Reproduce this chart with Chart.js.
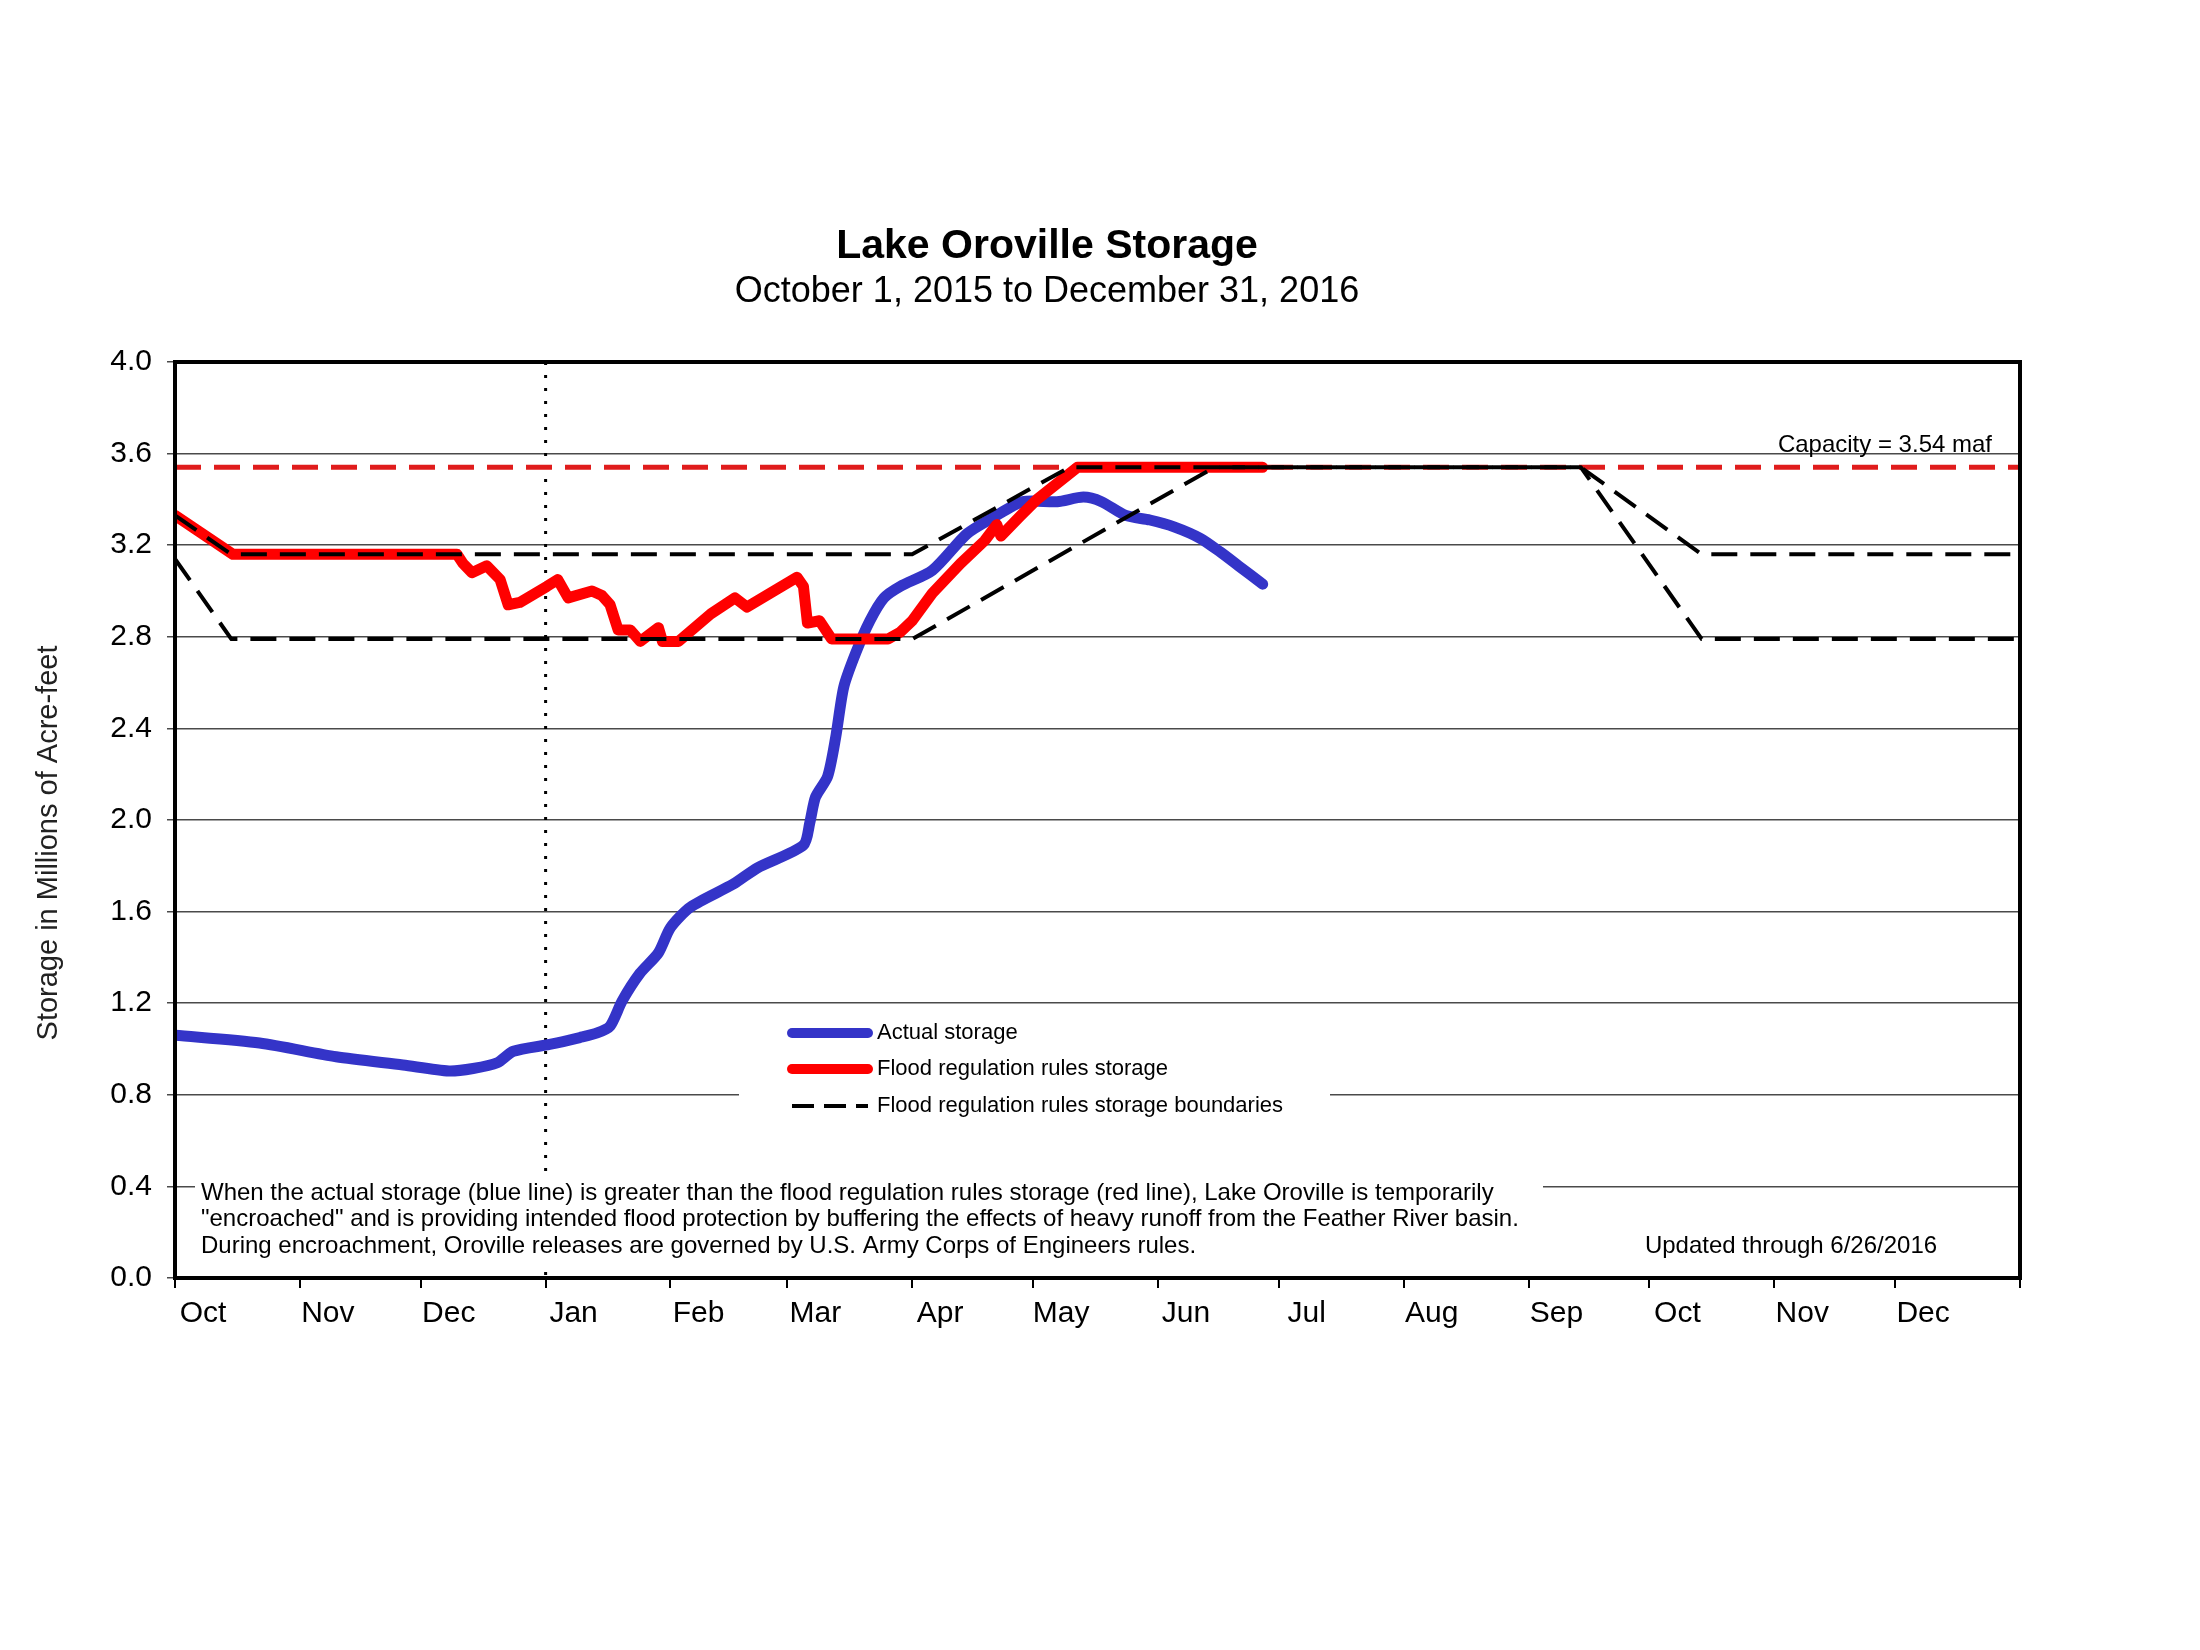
<!DOCTYPE html>
<html>
<head>
<meta charset="utf-8">
<title>Lake Oroville Storage</title>
<script src="https://cdn.jsdelivr.net/npm/chart.js@4.4.1/dist/chart.umd.min.js"></script>
<style>
  html, body { margin: 0; padding: 0; background: #fff; }
  #wrap { width: 2200px; height: 1650px; }
</style>
</head>
<body>
<div id="wrap"><canvas id="storageChart" width="2200" height="1650"></canvas></div>
<script>
// ================== DATA ==================
// x values are days since Oct 1, 2015
const monthStarts = [0, 31, 61, 92, 123, 152, 183, 213, 244, 274, 305, 336, 366, 397, 427, 458];
const monthLabels = ["Oct", "Nov", "Dec", "Jan", "Feb", "Mar", "Apr", "May", "Jun", "Jul", "Aug", "Sep", "Oct", "Nov", "Dec"];
const yTicks = [0, 0.4, 0.8, 1.2, 1.6, 2.0, 2.4, 2.8, 3.2, 3.6, 4.0];
const janDay = 92;
const capacity = 3.54;

const actualDays = [0, 21, 40, 56.6, 68, 74, 80, 84, 93, 100.5, 104.8, 108, 111, 115.4, 120, 123, 128, 138.6, 144.5, 156, 157.6, 159, 162, 164, 166, 169, 172.5, 176, 180, 188, 196.6, 203, 210.5, 219, 225.5, 230, 236, 242, 248, 254.5, 259.5, 264, 270];
const actualStorage = [1.06, 1.026, 0.966, 0.93, 0.904, 0.915, 0.94, 0.99, 1.02, 1.05, 1.07, 1.10, 1.21, 1.33, 1.42, 1.53, 1.62, 1.72, 1.79, 1.89, 1.99, 2.10, 2.19, 2.36, 2.58, 2.73, 2.87, 2.97, 3.02, 3.09, 3.25, 3.32, 3.39, 3.39, 3.41, 3.39, 3.33, 3.31, 3.28, 3.23, 3.17, 3.11, 3.03];

const rulesDays = [0, 14.4, 70, 71.5, 73.7, 77.4, 80.7, 82.7, 85.6, 92.3, 95, 97.6, 103.5, 106, 108, 110, 113, 115.5, 120, 121, 125, 133, 139, 142, 154.4, 156, 157, 160, 163, 177, 180, 183, 188, 195, 201, 204, 205, 210, 214, 219.7, 224, 270];
const rulesStorage = [3.33, 3.16, 3.16, 3.12, 3.08, 3.11, 3.05, 2.94, 2.95, 3.02, 3.05, 2.97, 3.00, 2.98, 2.94, 2.83, 2.83, 2.78, 2.84, 2.78, 2.78, 2.90, 2.97, 2.93, 3.06, 3.02, 2.86, 2.87, 2.79, 2.79, 2.82, 2.87, 2.99, 3.12, 3.22, 3.29, 3.24, 3.33, 3.40, 3.48, 3.54, 3.54];

const upperDays = [0, 14, 183, 222, 349, 379, 458];
const upperBound = [3.33, 3.16, 3.16, 3.54, 3.54, 3.16, 3.16];
const lowerDays = [0, 14, 183, 258, 349, 379, 458];
const lowerBound = [3.14, 2.79, 2.79, 3.54, 3.54, 2.79, 2.79];

const legendLabels = ["Actual storage", "Flood regulation rules storage", "Flood regulation rules storage boundaries"];
const noteLines = [
  "When the actual storage (blue line) is greater than the flood regulation rules storage (red line), Lake Oroville is temporarily",
  "\"encroached\" and is providing intended flood protection by buffering the effects of heavy runoff from the Feather River basin.",
  "During encroachment, Oroville releases are governed by U.S. Army Corps of Engineers rules."
];

// ================== STYLE ==================
const FONT = "'Liberation Sans', Arial, sans-serif";
const BLUE = "#3434c8";
const RED = "#ff0000";
const CAP_RED = "#e01c1c";
const DASH = [26, 13];

// ================== HELPERS ==================
function toPoints(days, vals) {
  return days.map((d, i) => ({ x: d, y: vals[i] }));
}

function drawText(ctx, text, x, y, font, align = "left", color = "#000") {
  ctx.font = font;
  ctx.fillStyle = color;
  ctx.textAlign = align;
  ctx.textBaseline = "middle";
  ctx.fillText(text, x, y);
}

// ================== OVERLAY PLUGIN ==================
const overlayPlugin = {
  id: "overlay",
  beforeDatasetsDraw(chart) {
    const { ctx, chartArea, scales } = chart;
    ctx.save();

    // dotted year divider
    const jx = scales.x.getPixelForValue(janDay);
    ctx.strokeStyle = "#000";
    ctx.lineWidth = 3;
    ctx.setLineDash([3, 10]);
    ctx.beginPath();
    ctx.moveTo(jx, chartArea.top);
    ctx.lineTo(jx, chartArea.bottom);
    ctx.stroke();
    ctx.setLineDash([]);

    // note box
    ctx.fillStyle = "#fff";
    ctx.fillRect(195, 1176, 1348, 86);
    noteLines.forEach((line, i) => drawText(ctx, line, 201, 1193 + i * 26.5, `24px ${FONT}`));
    drawText(ctx, "Updated through 6/26/2016", 1791, 1246, `24px ${FONT}`, "center");

    // legend box
    ctx.fillStyle = "#fff";
    ctx.fillRect(739, 1012, 591, 113);
    const rows = [1033, 1069, 1106];
    const styles = [
      { color: BLUE, width: 10, dash: [] },
      { color: RED, width: 10, dash: [] },
      { color: "#000", width: 4, dash: [22, 10] }
    ];
    rows.forEach((ry, i) => {
      const s = styles[i];
      ctx.strokeStyle = s.color;
      ctx.lineWidth = s.width;
      ctx.lineCap = s.dash.length ? "butt" : "round";
      ctx.setLineDash(s.dash);
      ctx.beginPath();
      ctx.moveTo(792, ry);
      ctx.lineTo(868, ry);
      ctx.stroke();
      ctx.setLineDash([]);
      drawText(ctx, legendLabels[i], 877, ry, `22px ${FONT}`);
    });
    ctx.restore();
  },
  afterDraw(chart) {
    const { ctx, chartArea } = chart;
    ctx.save();
    // plot frame
    ctx.strokeStyle = "#000";
    ctx.lineWidth = 4;
    ctx.strokeRect(chartArea.left, chartArea.top, chartArea.right - chartArea.left, chartArea.bottom - chartArea.top);

    // titles
    drawText(ctx, "Lake Oroville Storage", 1047, 247, `bold 41px ${FONT}`, "center");
    drawText(ctx, "October 1, 2015 to December 31, 2016", 1047, 292, `36px ${FONT}`, "center");
    drawText(ctx, "Capacity = 3.54 maf", 1992, 445, `24px ${FONT}`, "right");

    // y axis title
    ctx.translate(49, 843);
    ctx.rotate(-Math.PI / 2);
    drawText(ctx, "Storage in Millions of Acre-feet", 0, 0, `29px ${FONT}`, "center", "#222");
    ctx.restore();
  }
};

// ================== CHART ==================
Chart.defaults.font.family = FONT;

const lineBase = { pointRadius: 0, fill: false, tension: 0, borderJoinStyle: "round" };

new Chart(document.getElementById("storageChart"), {
  type: "line",
  data: {
    datasets: [
      {
        ...lineBase,
        label: "Upper boundary",
        data: toPoints(upperDays, upperBound),
        borderColor: "#000",
        borderWidth: 4,
        borderDash: DASH,
        order: 0
      },
      {
        ...lineBase,
        label: "Lower boundary",
        data: toPoints(lowerDays, lowerBound),
        borderColor: "#000",
        borderWidth: 4,
        borderDash: DASH,
        order: 0
      },
      {
        ...lineBase,
        label: legendLabels[1],
        data: toPoints(rulesDays, rulesStorage),
        borderColor: RED,
        borderWidth: 11,
        borderCapStyle: "round",
        order: 1
      },
      {
        ...lineBase,
        label: legendLabels[0],
        data: toPoints(actualDays, actualStorage),
        borderColor: BLUE,
        borderWidth: 11,
        borderCapStyle: "round",
        tension: 0.25,
        order: 2
      },
      {
        ...lineBase,
        label: "Capacity",
        data: toPoints([monthStarts[0], monthStarts[monthStarts.length - 1]], [capacity, capacity]),
        borderColor: CAP_RED,
        borderWidth: 5,
        borderDash: DASH,
        order: 3
      }
    ]
  },
  options: {
    responsive: false,
    animation: false,
    devicePixelRatio: 1,
    layout: { padding: { left: 0, top: 362, right: 180, bottom: 312 } },
    plugins: {
      legend: { display: false },
      title: { display: false },
      tooltip: { enabled: false }
    },
    scales: {
      x: {
        type: "linear",
        min: monthStarts[0],
        max: monthStarts[monthStarts.length - 1],
        afterBuildTicks: (scale) => { scale.ticks = monthStarts.map((v) => ({ value: v })); },
        afterFit: (scale) => { scale.height = 60; },
        grid: { display: true, drawOnChartArea: false, drawTicks: true, tickLength: 10, color: "#000", lineWidth: 2 },
        border: { display: true, color: "#000", width: 4 },
        ticks: {
          autoSkip: false,
          maxRotation: 0,
          labelOffset: 28,
          padding: 8,
          color: "#000",
          font: { size: 30 },
          callback: (value, index) => monthLabels[index] || ""
        }
      },
      y: {
        min: 0,
        max: 4,
        afterBuildTicks: (scale) => { scale.ticks = yTicks.map((v) => ({ value: v })); },
        afterFit: (scale) => { scale.width = 175; },
        grid: { color: "#4a4a4a", lineWidth: 1.5, tickLength: 8, drawTicks: true },
        border: { display: true, color: "#000", width: 4 },
        ticks: {
          padding: 15,
          color: "#000",
          font: { size: 30 },
          callback: (value) => Number(value).toFixed(1)
        }
      }
    }
  },
  plugins: [overlayPlugin]
});
</script>
</body>
</html>
